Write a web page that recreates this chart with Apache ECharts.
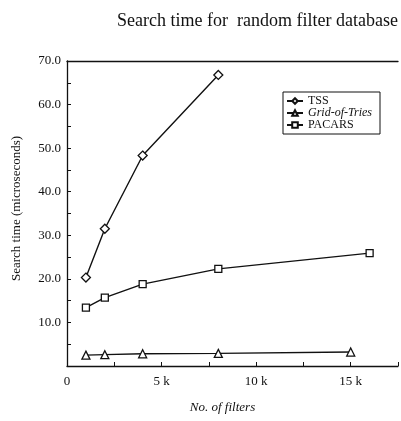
<!DOCTYPE html>
<html>
<head>
<meta charset="utf-8">
<script src="https://cdn.jsdelivr.net/npm/echarts@6/dist/echarts.min.js"></script>
<style>
  html, body { margin: 0; padding: 0; background: #fff; }
  #main { width: 401px; height: 421px; }
</style>
</head>
<body>
<div id="main"></div>
<script>
// data
const filters = [1000, 2000, 4000, 8000];
const tss = [20.3, 31.5, 48.3, 66.8];
const gridFilters = [1000, 2000, 4000, 8000, 15000];
const gridOfTries = [2.5, 2.6, 2.8, 2.9, 3.2];
const pacarsFilters = [1000, 2000, 4000, 8000, 16000];
const pacars = [13.4, 15.7, 18.8, 22.3, 25.9];

const font = 'Liberation Serif';
const myChart = echarts.init(document.getElementById('main'));

const pairs = (xs, ys) => xs.map((x, i) => [x, ys[i]]);

const makeSeries = (name, symbol, size, data) => ({
  name: name,
  type: 'line',
  data: data,
  symbol: symbol,
  symbolSize: size,
  showSymbol: true,
  itemStyle: { color: '#fff', borderColor: '#111', borderWidth: 1.3 },
  lineStyle: { color: '#111', width: 1.4 },
  z: 3
});

const option = {
  animation: false,
  backgroundColor: '#fff',
  title: {
    text: 'Search time for  random filter database',
    left: 112,
    top: 7,
    textStyle: { fontFamily: font, fontSize: 18, fontWeight: 'normal', color: '#111' }
  },
  legend: {
    orient: 'vertical',
    left: 283,
    top: 92,
    itemWidth: 16,
    itemHeight: 7,
    itemGap: 0,
    padding: [3, 8, 3, 3],
    borderColor: '#111',
    borderWidth: 1,
    formatter: n => n === 'Grid-of-Tries' ? '{i|' + n + '}' : n,
    textStyle: {
      fontFamily: font, fontSize: 12, color: '#111', lineHeight: 11,
      rich: { i: { fontFamily: font, fontSize: 12, fontStyle: 'italic', color: '#111', lineHeight: 11 } }
    },
    data: ['TSS', 'Grid-of-Tries', 'PACARS']
  },
  grid: { left: 67, right: 3, top: 61, bottom: 55 },
  xAxis: [
    {
      type: 'value',
      min: 0,
      max: 17500,
      interval: 2500,
      name: 'No. of filters',
      nameLocation: 'middle',
      nameGap: 35,
      nameTextStyle: { fontFamily: font, fontSize: 13, fontStyle: 'italic', color: '#111', padding: [0, 20, 0, 0] },
      axisLine: { lineStyle: { color: '#111', width: 1.3 } },
      axisTick: { inside: true, length: 4, lineStyle: { color: '#111' } },
      axisLabel: {
        fontFamily: font, fontSize: 13, color: '#111', margin: 9,
        formatter: v => v % 5000 === 0 ? (v === 0 ? '0' : (v / 1000) + ' k') : ''
      },
      splitLine: { show: false }
    },
    {
      type: 'value',
      position: 'top',
      min: 0,
      max: 17500,
      axisLine: { show: true, onZero: false, lineStyle: { color: '#111', width: 1.3 } },
      axisTick: { show: false },
      axisLabel: { show: false },
      splitLine: { show: false }
    }
  ],
  yAxis: {
    type: 'value',
    min: 0,
    max: 70,
    interval: 5,
    name: 'Search time (microseconds)',
    nameLocation: 'middle',
    nameGap: 44,
    nameTextStyle: { fontFamily: font, fontSize: 13, color: '#111', padding: [0, 0, 0, 10] },
    axisLine: { show: true, lineStyle: { color: '#111', width: 1.3 } },
    axisTick: { inside: true, length: 4, lineStyle: { color: '#111' } },
    axisLabel: {
      fontFamily: font, fontSize: 13, color: '#111', margin: 6,
      formatter: v => (v !== 0 && v % 10 === 0) ? v.toFixed(1) : ''
    },
    splitLine: { show: false }
  },
  series: [
    makeSeries('TSS', 'diamond', 9, pairs(filters, tss)),
    makeSeries('Grid-of-Tries', 'triangle', 8, pairs(gridFilters, gridOfTries)),
    makeSeries('PACARS', 'rect', 7, pairs(pacarsFilters, pacars))
  ]
};

myChart.setOption(option);
</script>
</body>
</html>
